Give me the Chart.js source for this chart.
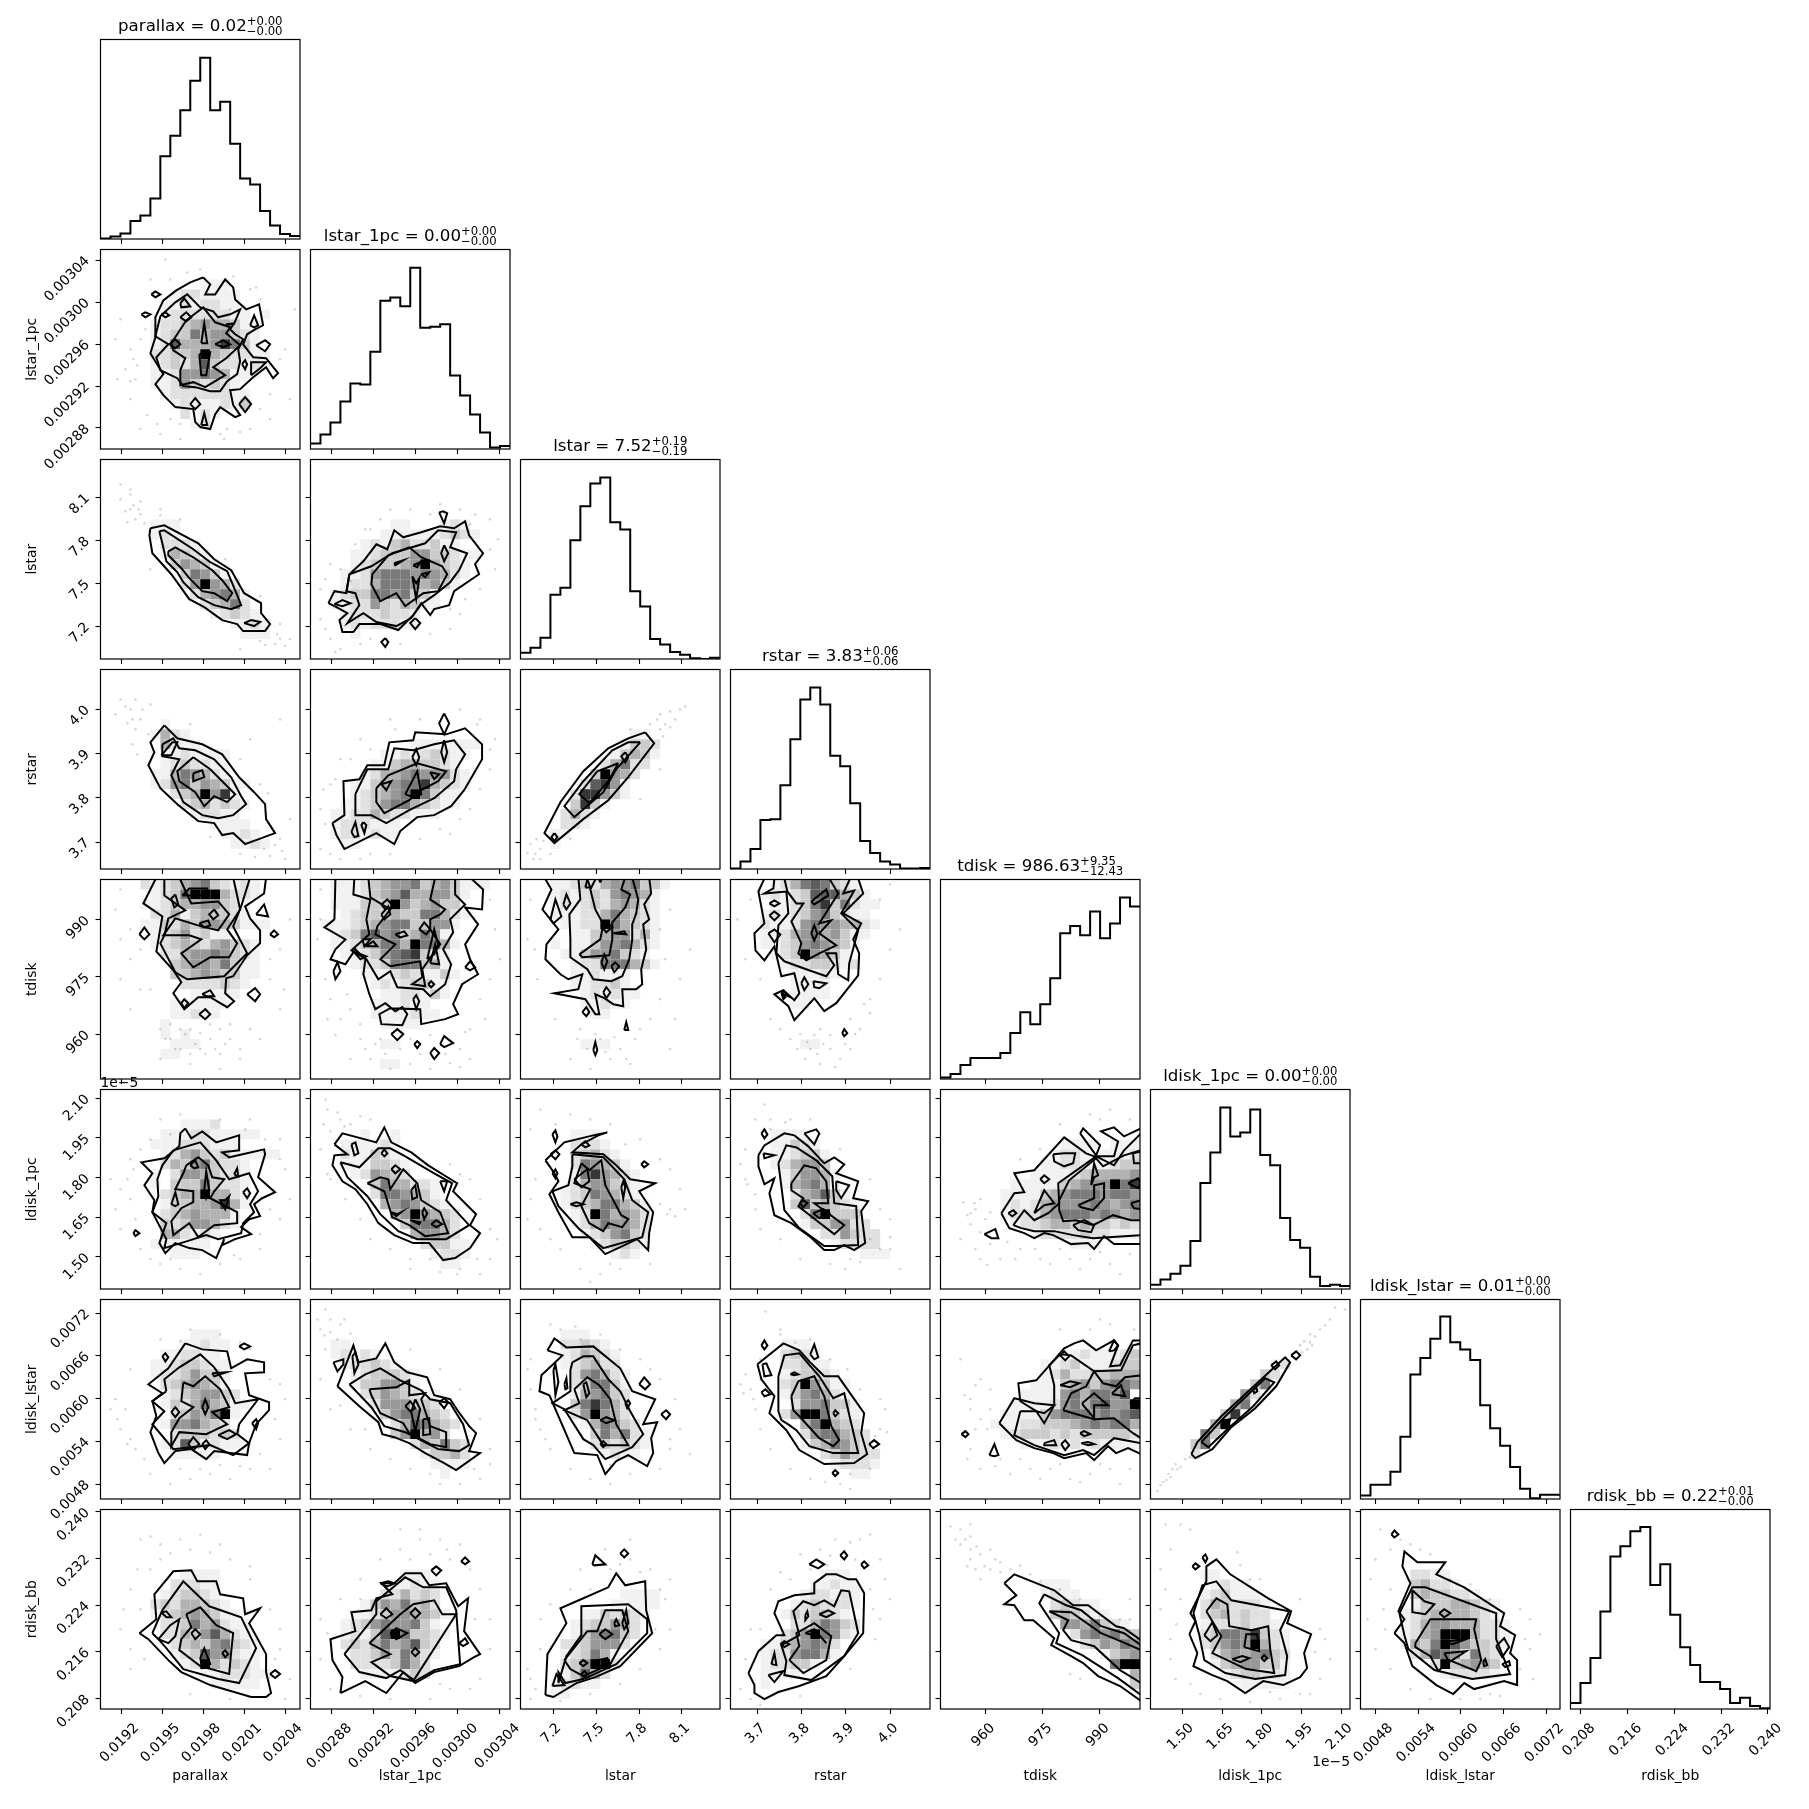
<!DOCTYPE html>
<html>
<head>
<meta charset="utf-8">
<style>
  html, body { margin: 0; padding: 0; background: #fff; overflow: hidden; }
  #corner { position: relative; width: 1809px; height: 1809px; overflow: hidden; }
  #corner canvas { position: absolute; }
</style>
<script src="https://cdn.jsdelivr.net/npm/chart.js@4/dist/chart.umd.min.js"></script>
</head>
<body>
<div id="corner"></div>
<script>
// variable names, titles
const names = ['parallax', 'lstar_1pc', 'lstar', 'rstar', 'tdisk', 'ldisk_1pc', 'ldisk_lstar', 'rdisk_bb'];
const titleMain = ['parallax = 0.02', 'lstar_1pc = 0.00', 'lstar = 7.52', 'rstar = 3.83', 'tdisk = 986.63', 'ldisk_1pc = 0.00', 'ldisk_lstar = 0.01', 'rdisk_bb = 0.22'];
const titleUp = ['+0.00', '+0.00', '+0.19', '+0.06', '+9.35', '+0.00', '+0.00', '+0.01'];
const titleDown = ['−0.00', '−0.00', '−0.19', '−0.06', '−12.43', '−0.00', '−0.00', '−0.00'];

// axis limits (ldisk_1pc is in units of 1e-5)
const axisMin = [0.019046, 0.00286, 6.971, 3.639, 948.3, 1.379, 0.00459, 0.2062];
const axisMax = [0.020509, 0.00305, 8.366, 4.09, 1000.5, 2.133, 0.00739, 0.2404];

// tick values and labels
const tickValues = [
  [0.0192, 0.0195, 0.0198, 0.0201, 0.0204],
  [0.00288, 0.00292, 0.00296, 0.003, 0.00304],
  [7.2, 7.5, 7.8, 8.1],
  [3.7, 3.8, 3.9, 4.0],
  [960, 975, 990],
  [1.5, 1.65, 1.8, 1.95, 2.1],
  [0.0048, 0.0054, 0.006, 0.0066, 0.0072],
  [0.208, 0.216, 0.224, 0.232, 0.24]
];
const tickLabels = [
  ['0.0192', '0.0195', '0.0198', '0.0201', '0.0204'],
  ['0.00288', '0.00292', '0.00296', '0.00300', '0.00304'],
  ['7.2', '7.5', '7.8', '8.1'],
  ['3.7', '3.8', '3.9', '4.0'],
  ['960', '975', '990'],
  ['1.50', '1.65', '1.80', '1.95', '2.10'],
  ['0.0048', '0.0054', '0.0060', '0.0066', '0.0072'],
  ['0.208', '0.216', '0.224', '0.232', '0.240']
];

// 1d histograms, 20 bins each, height in percent of the panel
const histParallax = [0.3, 1.3, 2.8, 9, 11.8, 20.3, 41.5, 51.8, 64.5, 79.3, 90.8, 64.5, 68.8, 47.8, 30.3, 27.3, 14, 6.8, 2.5, 1.5];
const histLstar1pc = [2.7, 7.3, 13.3, 23.8, 32.8, 32.3, 48.8, 74.3, 76, 71.5, 90.8, 60.8, 61.3, 62.5, 36.8, 26.8, 17.3, 8.3, 0.8, 1.5];
const histLstar = [3.1, 5.6, 10.6, 32.2, 35.7, 59.5, 76.6, 88, 91, 68.5, 64.9, 34, 26.3, 10, 7.3, 3.5, 2.1, 0.4, 0, 0.6];
const histRstar = [0.3, 3.7, 10, 24.5, 25, 42, 65, 85, 91, 82.5, 56.8, 51.5, 33, 14, 8, 3.7, 2.2, 0.2, 0.2, 0.5];
const histTdisk = [0.8, 2.5, 7, 10.5, 10.5, 10.5, 13, 23, 33.5, 27.5, 37.5, 50.5, 73, 76.7, 72, 84, 70.5, 78, 91, 86.5];
const histLdisk1pc = [2.1, 4.7, 7.7, 11.7, 24.1, 53.1, 68.4, 91, 76.5, 78.5, 90, 67.2, 62, 35.6, 24.5, 20.7, 6.2, 1.5, 2.1, 1.5];
const histLdiskLstar = [1.7, 7.1, 7.1, 13.7, 31.2, 62.4, 70.7, 80.3, 91.5, 78.6, 75, 69.7, 47, 35.5, 26.7, 16, 5.1, 0.4, 2.1, 2.1];
const histRdisk = [3, 13, 25.6, 48.9, 76.5, 81.6, 89.1, 91.2, 62.2, 72.6, 47.2, 31, 22, 13.5, 13.5, 10, 3, 5.6, 1.5, 0.4];
const hists = [histParallax, histLstar1pc, histLstar, histRstar, histTdisk, histLdisk1pc, histLdiskLstar, histRdisk];

// 2d panels: contours are flat x,y lists in bin units (0-20 along each axis, y up),
// cells are rows of bin darkness 0-9 from the top row, pts are the loose samples in bin units

const contours_r1c0 = [
  [10.3,17.2, 11,16.5, 10.5,15.5, 11.5,15.5, 12.5,17, 13.3,16.2, 13.5,15, 14.6,14, 15.9,14.5, 16.3,12.4, 15.5,12, 14.7,11.5, 14.3,10.5, 15.3,9.2, 16.6,9.1, 17.8,7.6, 17.3,7.1, 16.6,8.2, 15.3,7.2, 14,6, 13,5.9, 13.3,4.4, 14,3.4, 13.5,3.2, 12,4.2, 11.5,3.5, 11,2, 10,2.2, 9.5,2.7, 9.3,4, 7.5,4.2, 6.3,5.4, 5.5,6.5, 6.3,7.5, 5,9.6, 5.5,11.2, 5.5,13.2, 6.3,14.9, 7.6,15.9, 9,16.7],
  [6,13.3, 7.5,14.7, 8.7,15.5, 10,14.2, 11.3,13.8, 11.8,13.2, 13,13.5, 14,14, 13.5,12.8, 13,12, 13.5,11.5, 14.3,11, 13.8,10, 14,8.8, 13.7,7.5, 12.7,6.8, 12,5.8, 11,5.8, 9.5,6.2, 8.3,6.3, 7.7,7.1, 6,7.9, 5.6,9.2, 6.8,10.5, 5.5,11.3],
  [7.1,10.6, 8.6,12.9, 10.3,14.2, 11.5,12.7, 13,12.2, 12.6,11.6, 14,10.4, 12.6,9.1, 11.3,8.2, 12.5,7.4, 10.5,6.2, 9.3,6.7, 8,6.4, 8,7.9, 8.5,9.1, 7.3,9.9],
  [5.1,15.5, 5.5,15.8, 6,15.5, 5.5,15.2], [4.1,13.5, 4.5,13.7, 5,13.5, 4.5,13.2], [8,14.6, 8.4,15.1, 9,14.3, 8.1,14.2], [8,13.2, 8.6,13.7, 9.1,13.2, 8.6,12.8], [15,12.4, 15.4,13.4, 15.8,12.4, 15.4,12.2], [6.1,13.5, 6.5,13.7, 6.9,13.4, 6.5,13.2],
  [10.1,10.6, 10.4,12.6, 10.7,10.6], [6.9,10.5, 7.5,11, 8,10.5, 7.5,10.1], [11.5,10.5, 12.3,10.9, 13,10.5, 12.3,10.2], [9.9,9.5, 11,9.7, 10.6,7.4, 10.1,7.4], [15.6,10.4, 16.5,10.9, 17,10.5, 16.5,9.8], [14.2,8.5, 14.5,8.9, 14.7,8.5, 14.5,8], [15.1,7.4, 15.1,8.7, 16.6,8.7, 16,8.1],
  [9,4.5, 9.5,5.1, 10,4.5, 9.5,4], [10.1,2.4, 10.4,3.6, 10.7,2.4], [13.9,4.5, 14.5,5.2, 15.1,4.5, 14.5,3.7], [12.6,12.5, 13.5,12.6, 12.6,12.4]
];
const cells_r1c0 = ["", "", "", "..........111", ".......1221111", "......11212211", "......122222211.1", ".....122345443 11", ".....1233645532 1", ".....12744458631", ".....223349432211", ".....12324732212 1", ".....11255654111", ".....1125323 21", "......12222221 1", ".......12111213", "........2.21", ".........12", "", ""];
const pts_r1c0 = [2,13, 1.5,11, 3,10, 2.5,8, 3.5,7, 3,5, 6.5,19, 13,14, 16,15, 19.5,14, 18.5,10, 19,5, 4,2, 6,1.5, 8,2.5, 12,1.5, 15,2, 17,3, 7,17, 5,17, 1.7,7, 3.3,9, 3.7,8.4, 3,6.8, 4.5,12, 4,11, 4.7,3.4, 5.7,2.5, 8,1, 7,3, 12.7,2, 12.4,1, 14,1.7, 16,4, 17,5.5, 18,9, 8.7,17.7, 10,18, 13.3,17.3, 15,16, 15.6,16.2];

const contours_r2c0 = [
  [5,13.1, 6.4,13.4, 9.8,11.6, 11.4,10, 13.1,8.9, 14.4,6.6, 16.1,5.6, 16.1,4.6, 17,3.5, 16.5,2.8, 14.3,2.8, 13.7,3.5, 12.2,3.9, 10.4,5.2, 8.9,6, 7.1,8.5, 5.2,10.6, 4.9,12.4],
  [5.9,12.8, 6.4,12.9, 9.3,11, 11,9.7, 12.7,8.8, 13.7,6.4, 14.1,5.4, 13.1,5, 11.4,5.4, 9.8,6.2, 8.3,7.7, 7.7,8.7, 6.6,9.8, 6.2,11.6],
  [6.8,10.8, 7.5,11.2, 9.3,10.2, 11.2,8.9, 12.2,7.9, 13.2,6.6, 12.7,5.8, 11.4,6.6, 10.2,6.8, 8.9,8.1, 8.1,9.1, 6.8,10.4],
  [14.4,3.6, 15.1,3.9, 16,3.7, 15.4,3.3]
];
const cells_r2c0 = ["", "", "", "", "", "", ".....111", ".....121", "......2221", "......14321", ".......35431", "........36531", "........259542", ".........245641", "..........23462", "...........12321", ".............1121", "..............111", "", ""];
const pts_r2c0 = [2,16, 3,16.5, 3,15, 3.5,14, 4,14.5, 2.5,14.8, 4,15.8, 6,15, 8,14, 18,2, 17.5,1.5, 19,2, 17.7,2.5, 16,1.8, 14,1, 18,3.5, 12,6, 5,9, 3.3,15.4, 3.8,15, 4.4,13.6, 2.7,13.7, 3,17, 2,17.5, 16.5,1.4, 18.5,1.3, 16,6.3, 12.5,10, 6,14.4];

const contours_r2c1 = [
  [1.8,5.6, 2.4,6.8, 3.6,6.6, 3.9,8.5, 5.3,9.8, 6.6,11.5, 7.7,11, 8.4,12.9, 9.3,12.2, 11.1,12.7, 13,13.3, 14.4,13.1, 15.5,13.8, 15.9,12.4, 17.3,10.6, 16.5,9.5, 16.9,8.5, 14.4,6.8, 13.9,5.4, 12.4,5, 12,4.4, 11.1,5.6, 10.3,4.4, 8.8,2.9, 7,3.5, 4.9,3.5, 4.3,2.7, 3.2,2.7, 2.9,3.9, 3.7,4.6, 2.6,5.2],
  [3.9,8.5, 6.1,9.3, 8.2,10.6, 11.5,11.6, 12.8,12.9, 14.6,12.7, 14,11.2, 15.7,10.6, 14.9,8.9, 14,7.7, 12.4,6.4, 11.1,5.5, 10.1,4.1, 8.6,3.3, 6.6,3.7, 5.3,4.6, 3.7,3.6, 4.9,5.4, 4.5,6.6, 3.6,6.8],
  [6.2,8.5, 7.8,10.4, 9.9,11.2, 11.1,10.2, 13.2,9.3, 13.7,8.5, 12.8,6.8, 11.3,6.6, 9.5,5.3, 8.6,6.6, 7,5.8, 6.1,7.5],
  [12.9,14.7, 13.3,14.8, 13.7,14.6, 13.4,13.6], [2.4,5.5, 3.2,5.9, 4,5.6, 3.2,5.3], [7.5,2.1, 7.8,1.7, 7.5,1.2, 7.1,1.7], [10.5,4.1, 11,3.6, 10.5,3, 10,3.6], [13.4,11.4, 13.8,10.6, 13.4,9.8, 13.1,10.6], [8.4,9.6, 9.3,9.9, 8.5,9.4], [10.3,9.4, 11,9.7, 10.7,9.2], [11.1,8.5, 11.9,8.7, 11.5,8.2], [10.2,8.3, 10.6,7.6, 10.9,8.1, 10.6,6]
];
const cells_r2c1 = ["", "", "", "", "", "", "........11...121", ".......111111232 1", ".....1213 4 2231 1", "....112333553321 1", "....12333459432 1", "...11256665654 21", "...12246665453 1", "..12336656 33 1", "..1122532 431 1", "...12223221", "...12122211", "....1", "", ""];
const pts_r2c1 = [1,7, 1.5,3, 2,2, 4,7.8, 3,9, 6,13, 7,14, 10,15, 13,15.5, 15,15, 16.5,14.5, 18,14, 18.5,9, 17,7, 15,4.5, 14,3, 12,2.5, 9,1.5, 5,1.5, 3,1, 1.5,8, 2,9.5, 4.5,11.5, 5.5,13, 8,15, 12,14.5, 16,13.5, 18.8,12, 18,11, 15.5,6, 14,5, 6,2, 1,4, 2.5,0.7];

const contours_r3c0 = [
  [6.4,14.4, 7.7,13.1, 10.2,12.5, 12.2,11.5, 13.9,9.2, 15.4,7.7, 16.5,6.5, 16.6,5, 17.5,3.6, 15.6,2.9, 14.5,2.5, 13.3,3.6, 12.2,3.4, 11.4,4.6, 9.8,4.8, 7.7,6.5, 6,8.1, 4.8,10.4, 5.4,11.7, 5,12.7],
  [6.2,12.5, 7.3,13.1, 7.9,12.1, 9.5,11.9, 11.4,11, 13.1,9.2, 14.1,7.3, 14.6,6.5, 13.3,5.4, 11.8,5.1, 10.2,5.4, 8.3,6.7, 7.1,9.4, 7.9,11, 6.2,11.3],
  [9.3,11.2, 11,10, 12.7,8.3, 13.5,7.5, 12.7,6.7, 11.4,7.3, 10.4,6.3, 9.5,7.7, 7.9,8.8, 7.7,9.8],
  [6.1,11.4, 7.2,12.7, 7.7,12.7, 7.1,11.4], [9.3,9.6, 10.2,9.9, 10.4,9.2, 9.3,8.8]
];
const cells_r3c0 = ["", "", "", "", "", "......1", ".....1421", "......4211", "......1121111", "......1232211", ".....11465421", ".....1256354311", ".......2349581", "........2342321", ".........12211", "...........1111", "............1121", ".............1121", "", ""];
const pts_r3c0 = [2,17, 3,16, 1.5,15.5, 3.5,14, 4,15, 3.2,12.5, 5,16.5, 3.5,17, 4.8,13.5, 15,13, 18,15, 19,5, 18,3, 18.2,1.8, 17,1.3, 14,1.5, 11,3.2, 16,8.5, 14,11, 9,14.5, 3.2,15, 2.5,16.3, 4.2,16, 2.7,14.6, 17.5,2.4, 16.4,2, 18.5,1, 15.5,1.2, 3.7,11.5, 16.8,7.6];

const contours_r3c1 = [
  [2.2,4.6, 3.4,5.4, 3.3,8.8, 4.9,9, 5.7,10.4, 7.4,10.4, 7.9,12.7, 10.3,12.9, 10.5,13.7, 13.6,13.5, 15.5,14.1, 17.2,12.5, 17.2,11, 15.4,7.9, 14.1,6.3, 12.4,5.4, 10.7,5.2, 9,3.8, 8.4,2.5, 6.6,3.6, 3.4,2, 2.6,3.4],
  [4.5,7.5, 5.7,10, 7.8,10, 8.4,12.1, 10.3,11.9, 12.4,12.5, 14.4,12.9, 15.5,11.5, 14.6,10, 14.4,8.8, 12.4,7.1, 9.9,5.9, 7.6,4.6, 6.1,5.4, 4.5,5.4],
  [6.6,8.1, 7.8,9.4, 10.7,10.6, 13.6,9.8, 12.8,8.8, 11.1,7.9, 9.9,6.9, 7.4,5.6, 6.6,6.7],
  [13.4,15.6, 13.9,14.6, 13.4,13.5, 12.9,14.6], [13.4,12.9, 13.7,11.7, 13.4,10.7, 13.1,11.7], [4.1,3.7, 4.5,4.7, 4.8,3.3, 4.4,3.2], [5.3,4.7, 5.6,4.4, 5.4,3.6, 5.1,4.4], [9.5,7.5, 10.7,9.8, 11.1,7.5, 10.5,7.1], [7.1,8.5, 8.1,8.8, 7.6,7.9], [12,9.7, 12.9,9.5, 12.4,9], [10.2,11.2, 10.6,12, 10.9,11.2, 10.6,10.4]
];
const cells_r3c1 = ["", "", "", "", "", "", "...............", "..........111111 1", ".......1121 23211", "......11344 33 2 1", ".....124456555 21", "....11345668432 1", "....123456 9 6311", "...112356643211", "..1122432211 1", "..1222111", "..122 1211", "...11", "", ""];
const pts_r3c1 = [1,6, 1.5,4.5, 1,2, 2,1.5, 2.5,9, 4,11, 6,12, 8,15, 11,15, 15,16, 17,15, 18.5,13, 18,10, 17,8, 15,5, 13,4, 11,3, 8,1.5, 6,1.5, 3,1, 1.3,8, 2,8.5, 3,11, 5,13, 8.5,14, 16.7,14.5, 18,12, 16,6, 14,3.5, 5,1];

const contours_r3c2 = [
  [12.5,13.7, 13.4,12.6, 10.8,9.2, 8.8,6.9, 6.3,5, 3.4,2.6, 2.4,3.6, 4,6.7, 6.3,9.8, 8.8,12.1, 10.8,13.1],
  [12,12.7, 9.6,10, 8.3,7.7, 5.4,5.2, 4.4,6.3, 6.3,8.8, 9.2,11.9, 10.8,12.7],
  [9.8,10.6, 8.8,8.8, 6.9,6.6, 5.9,7.5, 7.7,9.8],
  [10.5,11.7, 10.8,11.2, 10.5,10.7, 10.1,11.3], [3.4,3.6, 3.7,3.2, 3.4,2.8, 3.1,3.2]
];
const cells_r3c2 = ["", "", "", "", "", "", "...........11", "..........1332", ".........13431", "........24622", ".......3 9 5 4 2", "......2 7 8 5 1", ".....2 8 8 5 3 1", ".....3 8 3 1", "....2 4 2 1", "....2 2 1", "...1 1", "...1", "", ""];
const pts_r3c2 = [14,15.5, 14.5,14.5, 15,15.8, 16,16, 16.5,16.3, 14,14, 13,14.5, 2,2, 1.5,1.5, 1,2.5, 1.6,3, 3,1.5, 0.7,1.6, 2,1, 15.5,15, 13.7,15, 14.3,13.3, 15,14.2, 11,14, 1.3,1, 2.3,2.8, 5,3, 12,7, 14,10];

const contours_r4c0 = [
  [5.6,20.2, 4.3,17.6, 6.2,16.3, 5.6,12.8, 7.3,10.9, 8.1,9.7, 7.3,8.6, 8.4,7, 9.8,8.2, 11,8.2, 12.7,7.2, 13.4,7.8, 12.5,8.6, 12.6,10.1, 13.3,10.3, 14.7,12.4, 16,13.6, 16,14.9, 15,16.1, 14.5,17.3, 16.4,18.6, 16.6,20.2],
  [6.4,20.2, 6.4,18.4, 8.5,16.9, 6.8,16.1, 6.4,14.4, 6,13.6, 7.5,10.7, 8.7,10, 12.4,10.3, 14.7,12.6, 13.3,15.3, 14.1,17.3, 15,20.2],
  [7.9,20.2, 9.1,17.6, 11.8,17.8, 12.9,16.5, 11.8,14.9, 10.1,15.3, 7.5,16.1, 6.3,14.4, 8.9,14.4, 10.1,14, 8.1,12.6, 9.3,11.2, 11,12.2, 12.9,12.2, 13.7,13.6, 12.7,15, 14,17, 13.3,20.2],
  [7.5,18.5, 7.8,17.5, 7.4,17.2, 7.1,18.1], [3.9,14.5, 4.4,15.2, 4.9,14.5, 4.4,14], [11.4,17, 11.8,16.4, 11.3,16, 10.9,16.5], [9.9,15.6, 10.8,15.9, 11,15.4, 10.4,15.2], [17,14.5, 17.4,14.9, 17.8,14.5, 17.4,14.2], [15.6,16.5, 16.4,17.5, 16.8,16.3],
  [14.7,8.5, 15.5,9.1, 16,8.5, 15.5,7.8], [9.9,6.5, 10.5,7, 11,6.5, 10.5,6], [10.2,8.5, 11,8.9, 11.4,8.3, 10.6,8.3], [8.1,7.6, 8.4,8, 8.8,7.6, 8.4,7.1], [8.2,18.4, 10.7,18.4, 10.7,19.1, 8.9,19.1]
];
const cells_r4c0 = ["....212345632121", ".....12369994221", "....1123445532 1", ".....224134332 1", "....11324355431 11", ".....12352 31 1", ".....12343245321", "......2245565 321", ".......3455463 1 1", ".......3345433 1 1", "........2222321", ".........11111", ".......11111 1", ".......1 121 1", "......1", "......1.1", ".......11 1", "......1 1", "", ""];
const pts_r4c0 = [2,19, 3,15, 4,13, 3,12, 2,10, 5,9, 6,5, 7,4, 8,3, 9,5, 10,3, 11,4, 12,2.5, 13,4, 14,3, 15,5, 16,4, 18,7, 17,10, 18,13, 19,16, 6,2, 9,1.5, 12,1, 6.5,4, 7.5,3, 8.5,4.5, 9.5,3.5, 10.5,2.5, 11.5,3, 12,5, 13,5.5, 7,5.5, 8,5, 10,4.6, 11,5.5, 9,2.5, 12.5,3.5, 14,2, 4,9, 3,7, 17,12, 18.4,9, 2,14, 1.5,17];

const contours_r4c1 = [
  [2.4,16, 1.4,15.2, 3.5,14, 2.5,13, 2,12, 3.5,11.5, 4.5,13, 5.5,12, 5.3,10.5, 5.9,8.5, 6.5,7, 7.5,7.6, 8.5,6.8, 9.2,7.2, 9.7,6.5, 9.2,5.4, 7.1,5.5, 6.9,6.5, 8,7.1, 11,7, 11.1,5.5, 13.5,6, 14.8,6.5, 14.3,7.5, 15.2,9.5, 16.8,10.5, 16,12, 15.5,13.5, 16.8,15.5, 15.5,17.2, 17.2,17, 17.3,19, 16,20.2, 2.5,20.2],
  [4.4,20.2, 4.3,18.5, 6,18, 5.6,16, 5.9,14.5, 4.1,12.9, 5.6,12, 6.8,10, 8,10.8, 8.7,9.2, 11.3,9, 12,8.3, 13.5,9.5, 14.1,11.5, 13.3,13, 14.3,14.7, 14,16, 15.5,17.5, 14.5,18.5, 14.5,20.2],
  [5.8,20.2, 6,18.2, 8,17, 6.7,15.3, 6.5,14.5, 8.5,13.5, 7,12, 8,11.3, 11,11.8, 11.2,10.2, 10.2,9.5, 11.5,9.3, 11.2,11, 13,13.5, 12,15, 12,16, 13,16.5, 13.5,17, 12,18, 12.5,20.2],
  [2.3,10.8, 2.7,11.7, 3,10.8, 2.5,10], [4.3,12.8, 5.6,12.3, 5,12], [5.5,13.3, 6.3,13.8, 6.7,13.3], [5.2,14, 6,14, 5.4,13.3], [7.1,16.5, 7.8,17.3, 8,16.5, 7.4,16], [10.9,15, 11.6,14.5, 12,15, 11.4,15.7], [8.5,14.5, 9.4,14.8, 9.7,14.4, 9,14.2], [11.7,12, 12.4,15, 12.8,13.5, 12.4,12.5], [15.5,11.2, 16,11.8, 16.5,11.2, 16,10.9], [12,11.6, 12.5,13.5, 12.9,11.5],
  [8.1,4.5, 8.7,5, 9.3,4.5, 8.7,3.9], [10.4,3.5, 10.7,3.8, 11,3.5, 10.7,3.1], [12,2.6, 12.4,3.1, 12.9,2.6, 12.4,2], [13,3.5, 13.4,4.3, 14.3,3.6, 13.4,3.2], [7.1,17.5, 7.7,18, 8.3,17.3, 7.5,17], [10.3,8, 10.6,8.4, 10.9,7.8, 10.6,7], [11.8,9.5, 12.1,9.8, 12.4,9.5, 12.1,9.2]
];
const cells_r4c1 = ["..1112345563453111", "..11123457445531", "..11133395 34533", "...12333433664 21", ".1112345663 3551", "..1 2 3675634651", "..1123466496641", "...1 123567 8 3 21", "....1223666 3 4 1", ".....1112321 131", "......1212 33 1 1", ".......11221 31", "......1 1 1 21 1", "......1111 2 1 1", ".......1111", "", ".......1 1", "", ".......1 1", ""];
const pts_r4c1 = [1,19, 1,16, 0.7,14, 1.5,10, 2,8, 3,6, 4,7, 5,4, 4,2, 6,2, 7,4, 8,1, 10,1.5, 12,1, 14,1.6, 15,3, 16,2, 17,8, 18,10, 18.5,15, 18,18, 19,12, 5.5,3, 6.5,3.5, 7.5,2.5, 9,3, 10,4, 11,2.5, 12,4.4, 13.5,2.5, 15,1.2, 5,5.5, 3.7,8.5, 2.5,4.4, 1.7,6, 16,5, 17.5,6, 15.5,4.7];

const contours_r4c2 = [
  [2.4,20.2, 3.1,19, 2.2,17, 3.8,15, 2.6,13.5, 2.5,12, 4,10.5, 4.8,10, 6.2,10.5, 5.8,9, 3.4,8.6, 6.5,8, 7.5,6.5, 7.9,6.5, 7.5,8.5, 8.4,8.1, 9.3,7.5, 10.3,7.3, 10.2,9, 11.6,9, 12.2,9.5, 12.1,11, 12.6,13, 12.3,15.5, 12.9,16, 12.4,17.5, 13.1,18.6, 12.9,20.2],
  [5.8,20.2, 6,18, 4.9,16.5, 5,14, 5,12.2, 6.7,11, 7.3,10, 9.1,9.8, 10.2,10.3, 10.9,12, 11.2,14, 11.2,15.5, 11.6,16.6, 11.8,18, 11.2,20.2],
  [5.9,12.5, 8,14, 8.3,15.5, 7.5,17, 7,19, 7.6,20.2, 10.5,20.2, 10.1,19, 11,18.5, 10.5,17.2, 9.2,15.7, 9.2,14, 8.9,12.4, 6.2,12.2],
  [3,16, 3.5,18, 4.1,16.3, 3.3,15.6], [4.3,17.5, 4.6,18.5, 5,17.6, 4.6,17], [8.2,15.2, 8.6,15.8, 9.2,15.2, 8.6,14.7], [8.1,11.7, 8.4,12.5, 8.7,11.8, 8.4,11], [9.1,11.3, 9.5,11.7, 9.9,11.3, 9.4,10.7], [8.3,8.7, 8.6,9.2, 9,8.7, 8.6,8.1], [6.2,6.7, 6.6,7.2, 6.9,6.7, 6.6,6.3], [10.4,4.9, 10.6,5.7, 10.8,4.9], [7.3,2.9, 7.5,3.7, 7.7,2.9, 7.5,2.4], [8,19.7, 8.2,20.2, 7.8,20.2], [6.5,19.2, 6.7,20, 7,19.2], [9.3,14.6, 10.4,14.8, 10.6,14.5]
];
const cells_r4c2 = ["...112324556331", "...12123256541", "...12123245421", "...1112246432 1", "....1122 9 6432 1", ".....11345524 1", "...1.1135564 21", "....113556 321", ".....12266643 1", ".....1 1 2 1 1 1", ".....1122 3 1", "......12121 1", "......1121 1", ".......1 1", "...", "", "......11 1", "", "", ""];
const pts_r4c2 = [1,18, 0.7,14, 1.7,10, 1.4,13, 14,15, 15,17, 14.5,12, 14,8, 16,10, 5,2, 6,5, 7,1, 8,4, 9,2, 10,3, 11,1.5, 12,5, 13,6, 15,3, 5.7,4, 6.7,3, 8.5,2.7, 9.4,4.2, 10.6,2, 11.5,4, 7.5,4.5, 3.5,6, 15.5,6, 17,13];

const contours_r4c3 = [
  [3.4,20.1, 2.8,18.8, 3.4,15.6, 2.4,14.6, 2.5,12.9, 3.4,11.9, 4.4,13.3, 5.1,10.3, 6.4,10.6, 6.9,8.6, 6.4,7.9, 5.3,8.9, 4.4,8.5, 5.8,7.3, 6.4,5.9, 8.4,8.1, 9.4,6.8, 10.6,7.6, 12.8,10.4, 12.9,12.6, 12.3,14, 13.1,15.6, 11.3,16.6, 12.6,17.9, 13.3,18.6, 12.8,20.1],
  [4.4,20.1, 4.3,19.1, 3.4,18.6, 5.6,18.8, 5.8,16.6, 4.8,15.4, 4.6,12.6, 5.4,11.8, 7.3,11.1, 9.6,10.3, 10.4,11.4, 9.6,12.6, 10.6,12.6, 10.8,10.5, 11.8,9.9, 11.9,11.6, 12.8,14.9, 11.1,16.6, 12.4,18.9, 11.3,18.6, 12,20.1],
  [5.4,20.1, 5.7,18.8, 6.6,17.6, 7.3,17.6, 6.1,15.8, 7.1,13.6, 6.8,12.6, 7.6,11.9, 8.9,12.6, 10.6,13.4, 8.9,14.6, 10.1,15.9, 8.9,15.6, 10.8,18.6, 9.9,20.1],
  [3.9,17.6, 4.4,17.9, 4.9,17.6, 4.4,17.3], [3.9,16.4, 4.4,16.8, 4.9,16.4, 4.4,15.9], [3.8,14.6, 4.4,15, 5,14.5, 4.4,13.7], [7.1,9.6, 7.4,10.2, 7.8,9.5, 7.4,8.9], [8.3,9.8, 9.6,9.6, 8.9,9.1, 8.4,9.2], [11.2,4.6, 11.4,5, 11.7,4.6, 11.4,4.3], [8.1,17.8, 9.6,19, 9.8,18.4, 8.4,17.5], [8.1,14.6, 8.4,15.4, 8.7,14.6, 8.4,13.9], [5.1,8.6, 5.5,8.2, 5.3,8], [5.1,8.6, 5.4,8.8, 5.8,8.3]
];
const cells_r4c3 = ["....1 24676321", "...12123777431", "....11236836 2 11", "...12 123563 2 11", "...2 11256554421", "...1 1 24564531 1", "...1 123565431", "....1239543 1", ".....1223 321 2", "......1 1 1 2 1", "......1 11 1", "......11 1 1", "......1 1", "", "", "", ".......1 1", "", "", ""];
const pts_r4c3 = [2,18, 0.7,16, 1.5,12, 3,10, 4,6, 5,5, 7,4.5, 8,3, 9,5, 10,3, 11,2, 12,3, 13,5, 14,8, 15,10, 16,13, 15,18, 16,19.5, 17,15, 9,1.5, 6,4, 6.7,3, 7.7,3.7, 8.4,4.4, 9.3,3.5, 8.7,2.5, 10,4.4, 11.5,3.5, 12.5,4.5, 12,6, 14,6.6, 13.4,7.5, 7.5,2, 10.5,1.2];

const contours_r5c0 = [
  [8.5,16.1, 9.1,15.1, 10.2,15.8, 11.6,14.7, 13.9,15.4, 13.9,13.9, 12.2,13.7, 12.9,13.2, 16.4,14, 16.5,13.5, 15.8,11.2, 17.5,9.7, 16.2,9.1, 15.4,8.5, 16,7.3, 14.9,7, 14.1,6.2, 15.1,5.5, 13.5,5, 12.2,4.4, 12.4,5, 11.6,3.1, 10.2,3.9, 8.9,4.1, 7.5,4.6, 6.5,3.6, 5.9,4.6, 6.6,6.6, 5.2,7.7, 5.4,8.9, 4.4,10.4, 5.2,11.6, 4.1,12.7, 6.4,13.1, 7.9,14.3, 8,15.6],
  [7.3,13.9, 10,14.7, 11.6,12.9, 12.9,11, 14.9,11.6, 15.8,9.8, 15,8.5, 15.4,7.7, 14.3,6.6, 14.1,5.6, 11.8,5, 10.6,5.4, 8.7,4.8, 6.4,4.1, 6.6,5, 5.2,7.7, 5.8,9.3, 5.7,11, 6.2,12.4],
  [8.6,12.4, 9.8,13.2, 10.8,12.4, 11.2,11.2, 12.4,11, 11.4,9.8, 11,9.1, 13.7,7.7, 13.7,6.6, 11.4,6.4, 9.8,5.2, 8.9,6.6, 7.3,5.4, 7.1,6.8, 8.1,8.1, 9.3,8.7, 9.3,9.8, 7.5,10, 8.3,11.6],
  [7.1,8.5, 7.5,9.7, 7.8,8.5, 7.5,8.3], [3.3,5.6, 3.5,5.9, 3.9,5.6, 3.5,5.3], [10.4,9.9, 10.6,11.8, 10.9,9.9, 10.6,9.1], [12.5,8.9, 12.9,9.3, 12.5,8, 12,8.9], [14.3,9.7, 14.7,10.1, 15,9.6, 14.7,9.1], [13.4,11.5, 13.7,12.1, 13.8,11.3], [9,12.4, 9.5,12.9, 9.8,12.2, 9.4,12.1]
];
const cells_r5c0 = ["", "", "", "........1112", "......111221 1111", ".....1 1122211 1", "......124532311111", "......243563 22 1", ".....1.2554 3 22 1", ".....1.3336 3221", "......2 3449 4 4 21", "......1334458 41", "......2 3 4 5 4 4 4 1", "......323 5 5 4 2 1", "......4 4 2 1 2 1", ".....1 11 1 1 1", ".......111", ""];
const pts_r5c0 = [2,6, 1.5,8, 1,11, 3,13, 4,14, 5,15, 6,17, 8,17.5, 12,17, 15,17, 18,15, 18.5,12, 19,9, 18,7, 16,4, 14,3, 10,1.5, 8,2, 6,2.5, 4,4, 3,9, 2,10, 3.5,7, 2.7,11, 3.3,12, 5,3, 7,3, 12,2.5, 13.4,3.4, 16,5.5, 17,8, 18,13, 16.5,15, 14.5,16, 7,15.5];

const contours_r5c1 = [
  [2.4,14.5, 3.2,15.6, 6.6,14.7, 7.4,16.2, 8.1,14.7, 10.1,13.7, 11.8,12.4, 14.7,10.6, 14.3,9.8, 16.6,7.5, 16,6.4, 17,5.6, 16,4.1, 14.5,3.1, 13.3,2.9, 11.9,4.6, 10.3,4.6, 8.4,5.4, 6.8,6.6, 5.7,8.5, 4.5,10, 3.2,10.8, 2.2,12.4, 2.4,13.4, 3.7,13.5],
  [3,12.7, 4.9,12.2, 6.8,14.1, 8,14.1, 9.5,13.3, 12.4,11.6, 14.2,10.6, 13.6,8.9, 15.9,6.4, 13.6,5, 10.7,5, 8.8,5.8, 7,7.5, 5.7,9.3, 3.7,11.2],
  [5.7,10.6, 7,11.2, 7.8,11, 8,10, 9.3,12, 10.7,10.6, 11.1,8.9, 13,7.7, 13.8,5.6, 11.5,5.3, 9.9,6.4, 8.2,7.2, 7.4,9.8],
  [4.1,14.5, 4.5,14.7, 4.8,13.6, 4.4,13.4], [7.1,13.6, 7.4,14, 7.7,13.6, 7.4,13.3], [8.1,12, 8.5,12.4, 9,12, 8.5,11.6], [13,10.8, 13.7,10.8, 13.4,9.8], [10.1,9.9, 10.5,10.4, 10.7,9.2, 10.2,9], [8.1,7.7, 8.7,7.5, 9.1,7.7, 8.6,7.3], [11.2,7.7, 11.4,8.1, 11.7,7.6, 11.4,7], [12.1,6.5, 12.6,6.9, 13.2,6.5, 12.6,6.2], [10,6.9, 11,6.7, 10.9,6.5]
];
const cells_r5c1 = ["", "", "", "", ".....1..1", "...111 1 2 1", "...2 1 1 3 2 1", "...111 3 3 2 1", "....12 5 4 3 2", "......3 6 4 4 2 2 1", "......2 6 6 5 4 3 1", ".......4 5 6 5 3 2 1", "........4 5 9 5 4 3 2", ".........3 6 6 6 4 2", "..........4 5 5 4 2", "...........2 3 3 1 1", "............1 2 2 1", ".............1 1", "", ""];
const pts_r5c1 = [1.5,19, 1.7,18, 3,17, 4,16.5, 6,17, 2,15.8, 1,14, 2,11, 5,7, 6,5, 8,4, 10,3, 12,3, 15,2, 17,1.5, 18,3, 18,6, 17,9, 16,11, 14,12.5, 2.7,17.7, 1.3,16.5, 3.4,16.3, 5,17.3, 18.7,5, 16.7,3, 14.7,1.5, 13,1.7, 1.7,11.5, 3.5,9, 10,2, 15,11.5];

const contours_r5c2 = [
  [2.5,12.9, 4.4,14.7, 7.7,15.5, 8.7,15.7, 7.8,15.4, 6.1,14.5, 5.2,13.7, 8.3,13.5, 9.6,12.4, 11,11, 13.5,10.6, 11.9,9.8, 13.3,7.7, 12.9,5.6, 12.8,3.9, 11.7,5, 8.5,3.5, 6.9,5.2, 5.2,5.2, 3.8,7.7, 2.9,9.5, 3.8,10.8, 3.4,11.6],
  [5.2,13.5, 8.3,13.2, 10.4,11, 11.2,8.9, 12.8,7.7, 12.2,5.2, 8.3,4.1, 5.9,6, 3.8,8.3, 3.2,9.8, 4.8,10.4, 5.2,12.3],
  [6.1,12.6, 6.9,11.9, 8.1,12.9, 8.5,10.4, 10.1,7.4, 10.8,7, 10.2,6.2, 8.8,6.6, 8.3,5.8, 6.9,6.6, 6.1,8.3, 7,10, 5.4,10.6],
  [3.2,15.5, 3.5,15.9, 3.7,15.3, 3.5,14.7], [3,13.5, 3.5,13.9, 3.9,13.5, 3.5,13], [3.2,11.6, 3.5,12, 3.7,11.6, 3.5,11.1], [6.1,14.5, 6.5,14.8, 6.9,14.4, 6.5,14.2], [12.1,12.5, 12.4,12.8, 12.8,12.5, 12.4,12.2], [10.1,10.2, 10.3,10.8, 10.5,10.2, 10.3,9.1], [5,8.5, 5.6,8.7, 6.3,8.5, 5.6,8.3], [5.4,11, 6.7,12, 6.9,10.8, 6.1,10.2]
];
const cells_r5c2 = ["", "", "", "", ".....111", ".....2 2 2 1", ".....2 3 4 2 1", ".....2 6 5 4 3 1", ".....1 6 8 5 4 2 1", ".....2 4 5 5 3 2 1", "....1 2 3 6 5 4 2 1", "....1 2 3 4 6 6 4 3 1", ".....1 2 9 6 4 5 4 2", ".....1 2 4 6 5 5 4 2", "......1 2 3 5 6 3 2", ".......1 2 3 3 2 1", ".........1 2 1", "", "", ""];
const pts_r5c2 = [1,16, 2,18, 1.5,11, 1,9, 0.7,7, 2,6, 3,5, 4,4, 6,2, 8,1.5, 10,2, 13,2.5, 15,8, 16,10, 15,12, 14,13, 12,15, 9,16.5, 7,17, 5,17.5, 14,8.5, 14.7,7.5, 15.5,7.3, 16.5,8, 3.5,16.5, 10.5,14.5, 9,2.5, 7,0.7];

const contours_r5c3 = [
  [2.8,13.4, 3.4,14.4, 5.4,15.6, 6.4,15.4, 7.8,14.3, 9.4,12.6, 10.4,13.2, 11.4,12.5, 10.6,11.6, 12.8,10.8, 12.3,9.1, 13.8,8.8, 13.1,7.8, 13.5,4.6, 12.4,3.9, 11.4,4.4, 10.4,3.9, 9.4,3.9, 7.9,5.3, 6.1,6.6, 4.4,7.4, 3.9,9.6, 4.4,11.1, 3.4,10.5, 2.8,12.3],
  [4.8,12.6, 5.6,14.4, 6.6,14.2, 8.6,12.9, 10.2,11.3, 10.4,8.6, 12.6,8.3, 12.8,4.4, 10.6,4.3, 9.4,4.3, 6.9,6.1, 5.4,7.9, 5.1,10.3],
  [6.1,10.6, 7.4,12.4, 8.6,12.1, 9.6,10.8, 9.8,8.6, 8.4,8.6, 11.4,6.4, 10.4,5.5, 8.6,6.9, 6.8,8.3, 7.3,9.1, 6.1,9.9],
  [3.1,15.6, 3.4,16, 3.7,15.5, 3.4,15.1], [7.4,15.6, 8.6,16, 8.9,15.6, 8.4,14.5], [3.3,13.6, 4.4,13.4, 3.4,13.1], [10.6,10.8, 11.9,10.4, 11.1,9.1, 10.6,9.9], [8.3,7.6, 9.3,8, 9.9,7.6, 8.9,7.1], [6.9,8.6, 7.3,8.9, 7.7,8.6, 7.3,8.2]
];
const cells_r5c3 = ["", "", "", "", "....111 1", "....11 3 2 1", "....11 2 3 3 1", "....1 2 4 5 5 3", ".....1 3 5 5 4 1", ".....1 4 5 6 4 1", "......2 4 5 7 3 1", "......3 7 3 4 3 2 1", ".......2 6 9 3 3 3", ".......1 3 3 5 5 2 2", ".........2 2 5 3 2 2", "..........1 2 2 2 2", ".............1 1 1", "", ""];
const pts_r5c3 = [3.4,18.5, 2.5,17, 1.5,14, 1.5,11, 2.5,8, 3,6, 5,5, 7,3, 10,2.5, 12,3, 14,5, 16,5.2, 15,8, 14,11, 11,14, 8,17, 6,17, 4,17, 16,4, 17,2, 1,12.5, 1.7,10.5, 2.5,9.5, 11.5,2, 13,2.7, 15,4, 16,7, 5.5,16.7, 4,16, 9,15.5];

const contours_r5c4 = [
  [6.1,7.6, 7.4,9.6, 8.4,9.7, 7.4,11.6, 9.4,11.9, 12.4,15.2, 14.6,13.6, 15.4,13.3, 17.4,13.3, 17.8,14.8, 16.1,15.8, 17.4,16.2, 18.4,15.3, 20.1,16.1, 20.1,4.5, 17.4,4.5, 16.4,5.3, 15.4,4, 14.8,4.6, 13.1,4.5, 11.3,5.4, 10.4,5.6, 9.4,5.1, 8.4,5.6, 6.9,6.1],
  [7.3,6.4, 8.4,7.9, 9.4,6.9, 10.8,7.6, 11.9,8.6, 11.8,10.6, 15.6,13.3, 17.4,12.4, 18.4,13.9, 20.1,15.6, 20.1,5.4, 15.3,5.1, 13.3,5.4, 11.4,5.8, 9.4,5.8, 8.1,6.1],
  [11.9,8.9, 12.9,10.9, 15.6,13.1, 16.3,12.3, 18.4,13.4, 20.1,13.9, 20.1,6.9, 19.1,6.9, 17.3,7.4, 15.3,6.4, 13.6,6.9, 12.3,6.8, 11.9,7.9],
  [4.4,5.5, 5.5,6, 5.8,5.1, 5.1,5.1], [11.3,13.5, 12.4,13.6, 13.5,13.6, 13.3,12.6, 12.4,12.3, 11.4,12.8], [9.4,7.6, 10.4,9.9, 11.4,8.6, 10.4,8.4], [13.3,6.4, 14.4,6.9, 15.4,6.4, 15.1,5.7, 13.8,5.9], [15.1,10.4, 15.4,12.6, 15.8,11.4, 15.4,11.2], [13.8,8.4, 15.4,9.1, 15.4,10.4, 16.4,10.6, 16.4,9.1, 15.3,7.9, 14.1,8.2],
  [18.8,10.6, 19.8,11.1, 20.1,10.6, 19.8,10.1], [19.1,8.6, 20.1,8.9, 20.1,8, 19.4,8.1], [19.3,13.6, 20.1,13.8, 20.1,12.6, 19.4,12.6], [10,11, 10.4,11.4, 10.9,11, 10.4,10.6], [6.8,7.6, 7.3,7.9, 7.6,7.6, 7.2,7.3], [14,15.6, 14.3,16.1, 16,14.4, 15.6,13.4]
];
const cells_r5c4 = ["", "", "", "", "", "............1111.1112", "...........1221.11123", "..........1122111233", ".........111123444455", ".......11111345559 68", "......11113456665665", "......12124555565456", "......12224566656545", ".......1223443433232", ".........12222322111", ".............111", "", "", "", ""];
const pts_r5c4 = [4,9, 4.5,7, 3.5,8, 3,6.5, 2,5, 3.5,4, 4,3, 5,4.5, 6,3, 7.5,3, 8,4, 10,3, 11,2.5, 12,4, 14,2, 15,3, 17,2.5, 18,1.5, 16,17, 17,18, 15,17.5, 12,16.5, 3.4,8.6, 2.7,7.4, 2.3,8.7, 3,7.6, 4,5.7, 5,7.7, 4.7,2.4, 6.7,4.7, 9.5,4, 13,3, 16,3.7, 19,3.5, 19,17, 10,14, 8,13];

const contours_r6c0 = [
  [8.5,15.6, 10.2,15, 12.7,14.8, 13.1,13.1, 14.7,14, 16.4,13.7, 16.4,12.7, 14.5,12.6, 14.9,10.4, 16.9,9.7, 16.9,8.9, 15.6,7.5, 14.9,5.6, 14.7,4.4, 11.4,4.8, 10.6,4, 9.1,5, 7.5,4.8, 6.4,3.6, 5.8,4.6, 5,6.7, 5.6,8.3, 5.2,9.8, 6.2,10.6, 4.8,11.5, 6.8,13.1],
  [6.6,10.8, 6.4,12, 7.9,13.2, 10,14.5, 11.4,13.2, 12.9,11, 13.5,9.6, 15.8,10, 13.9,7.5, 13.7,6.5, 14.9,5.6, 13.3,4.4, 11,5.4, 7.3,5, 5.2,7.5, 6.4,8.8, 5.2,9.8],
  [8.3,11.7, 9.3,11.3, 10.5,12.3, 12,11, 12.9,9.2, 11.2,8.7, 12.7,7.5, 10.6,6.5, 7.9,6.7, 7.1,5.3, 7.1,6.7, 7.9,8.1, 9.3,9.2, 8.1,9.8],
  [6.2,14.3, 6.5,14.6, 6.8,14.2, 6.5,13.8], [13.9,15.3, 14.4,15.6, 15,15.3, 14.4,15], [7.1,8.7, 7.5,9.2, 7.9,8.7, 7.5,8.2], [11.2,12.6, 12.6,12.7, 11.4,12.3], [15.2,7.6, 15.6,8, 15.8,7.6, 15.6,7], [11.8,6.4, 12.9,6.9, 13.6,6.5, 12.7,6], [8.8,5.5, 9.3,6.2, 9.9,5.5, 9.3,4.9], [10.2,5.5, 10.6,5.9, 10.9,5.5, 10.5,5], [10.2,9.2, 10.5,10, 10.8,9.2, 10.5,8.5]
];
const cells_r6c0 = ["", "", "", ".........1 1 1", "........1 1 2 1 1", "......1 1 2 2 1 1", ".....1 1 2 3 3 2 1 1", ".....1 2 2 3 5 3 3 1", "......2 3 4 5 4 3 1", "......1 2 3 4 5 5 3 2", "......1 3 2 4 6 4 3 1 1", ".......2 3 5 4 6 9 1", "......1 5 5 6 4 3 2", ".......2 3 3 3 2 3 2", "......1 2 7 3 1 2 1 1", ".......1 1 1 1 1", "", "", ""];
const pts_r6c0 = [1,9, 1.5,10, 2,7, 3,6, 3.5,5, 5,2.5, 7,1.5, 9,2, 11,2.5, 13,2, 15,3, 17,3, 18,6, 18.5,10, 17,12, 15,15, 12,16.5, 9,17, 6,16, 3,13, 1.7,8, 2.5,9, 2.7,5.5, 4.4,4, 8,3, 10,3, 12,3.4, 14,3.3, 16,4.5, 17.5,8, 18,11.5, 14,15.7, 8,15.8];

const contours_r6c1 = [
  [2.7,11.3, 4.3,15.4, 4.8,13.7, 6.6,14.1, 7.5,15.6, 8.4,13.7, 9.7,12.7, 11.7,12.2, 12.4,10.4, 14,10, 14.8,8.8, 15.9,7.3, 16.6,6.6, 15.9,4.8, 17,4.6, 14.6,2.9, 13.4,3.6, 11.5,4.6, 9.9,5.6, 8.4,6.2, 7.2,6.5, 6.8,7.7, 4.9,9.3],
  [3.9,11.5, 5.5,12.5, 7,13.1, 9,11.9, 11.1,10.9, 12,10, 14,9.6, 15.3,7.5, 15.9,5.4, 14.9,4.8, 12.8,5, 9.5,6.7, 7.4,7.3, 6.1,9.2],
  [5.9,11, 8.6,11.2, 9.9,11.9, 9.9,10.4, 11.5,10.6, 11.1,10, 12,7.3, 13.6,6.7, 13.6,5.2, 12,5.5, 9.9,6.6, 9.3,7.6, 7,8.6, 6.1,10.4],
  [2.3,13.7, 3.3,14, 3.3,13.5, 2.7,12.8], [4.2,14.3, 4.5,14.7, 4.8,13.5, 4.4,12.6], [12.9,9.7, 13.4,10.1, 13.8,9.7, 13.4,9.1], [10.5,10, 11,9, 10.5,6.8, 10.1,8.7], [11.3,8, 11.9,8.1, 12,6.5, 11.3,6.4], [9.5,9.3, 10,9.8, 10.5,9.1, 10,8.8]
];
const cells_r6c1 = ["", "", "", "", "..1 1", "..1 2 1 2 1", "...1 2 2 3 2 1", "....1 2 3 3 3 2 1", "....1 3 3 5 5 3 1", ".....2 3 5 4 3 2 1 1", "......2 5 5 5 3 3 2", ".......3 5 6 6 4 3 2", "........2 4 7 6 4 3 2", "........3 5 9 4 5 2", "..........2 4 3 6 3 2", "...........1 3 3 4 2", "............1 1 1 1", ".............1", "", ""];
const pts_r6c1 = [1.5,19, 2,18, 1,17, 3,17.5, 2.7,16, 1.5,15, 1,12, 2,9, 4,7, 6,5, 8,4, 10,3, 12,2.5, 15,1.5, 17,2, 18,5, 17,8, 15,11, 13,13, 10,15, 2,16.7, 1.4,16.4, 3.4,18, 4,16.6, 0.7,18, 16.4,3, 18,3.5, 13,1.5, 5.5,7, 3,9.4];

const contours_r6c2 = [
  [2.7,14.9, 3.4,16.1, 4.6,15.2, 7.3,15.3, 10,13.1, 11.2,10.8, 13.5,10, 12.3,7.5, 13.7,7.7, 13.1,6.1, 13.3,4.6, 12.7,3.3, 10.8,4.4, 9.6,3.8, 8.5,2.5, 7.7,4.4, 5.4,4.6, 2.9,10.4, 1.9,10.8, 2.1,12.4, 4.2,14.4],
  [5.2,13.7, 6.3,14.3, 7.3,14.3, 8.8,12, 10,10.8, 11,8.8, 12.3,6.5, 11.2,5.2, 8.5,4, 7.3,5.4, 6.3,6, 4.4,9, 3.2,9.6, 5,10.8, 5,12.9],
  [5.4,11, 6.7,12.2, 7.9,11.4, 9,10, 9.6,7.5, 10.8,5.4, 8.3,5.4, 6.7,7.9, 4.4,8.9, 5.9,9.6],
  [3.3,12.9, 3.5,13.5, 3.8,11.7, 3.5,10.4], [4.4,11.5, 4.6,12.1, 4.7,11.1, 4.5,11], [11.9,11.5, 12.4,12.2, 13,11.5, 12.5,11], [14.1,8.5, 14.6,8.9, 15,8.5, 14.6,8], [10.5,9.6, 10.8,9.9, 11,9.6, 10.7,9.1], [8,7.9, 8.6,8.2, 9.4,7.9, 8.6,7.6], [8,5.5, 8.3,5.8, 8.6,5.5, 8.3,5.2], [6.3,11.5, 6.6,11.7, 6.9,10.6, 6.6,10.2]
];
const cells_r6c2 = ["", "", "", "....1 1 1", "....2 2 3 2 1", "....1 2 4 3 2 1", "....1 2 3 4 2 2", ".....2 5 6 4 2 1", ".....2 3 6 6 3 1", ".....1 4 5 6 3 2", ".....3 6 8 6 4 2", ".....2 5 9 5 4 2", "......1 4 6 5 3 2", ".......3 6 4 6 2 1", ".......2 3 2 3 2 1", "........1 2 1 1", "", "", ""];
const pts_r6c2 = [1,11, 1.5,9, 0.7,13, 2,7, 3,5, 5,3, 7,2, 9,1.5, 11,2.5, 14,3, 15,5, 16,7, 15.5,10, 14,12, 12,14, 10,15, 8,16.5, 4,17, 3,17.5, 1.5,8, 2.5,6, 15,6, 17,4.5, 13,13, 6,16, 5.5,17.3, 1,14, 9,3.4];

const contours_r6c3 = [
  [2.7,13.5, 5.3,15.6, 6.9,14.9, 7.9,13.8, 9.4,12.3, 10.8,12.3, 13.4,8.6, 13.1,6.6, 13.7,4.5, 12.4,3.6, 9.4,3.5, 6.9,4.9, 5.6,6.9, 3.9,8.6, 4.4,10.3, 3.1,12],
  [4.8,12.3, 5.4,14.4, 6.9,14.6, 8.9,12.3, 10.3,10.1, 11.4,10.6, 12.1,7.6, 12.8,4.6, 10.3,4.6, 7.9,5.3, 6.6,6.9, 5.9,7.4, 5.1,7.9, 4.8,8.8],
  [6.1,10.3, 6.8,11.8, 8.4,12.3, 9.4,10.3, 10.1,7.3, 10.9,5.9, 10.3,5.3, 8.9,6.1, 6.9,8.3, 6.3,8.9],
  [3.1,15.4, 3.4,15.9, 3.7,15.4, 3.4,15], [8,14.5, 8.4,15.5, 8.8,14.2, 8.4,14], [3.2,13.5, 3.6,13.6, 4.1,12.4, 3.4,12.3], [3.1,10.7, 3.5,11, 4,10.5, 3.4,10.3], [13.9,5.5, 14.4,5.9, 14.9,5.5, 14.3,5.1], [10.2,2.6, 10.5,2.9, 10.8,2.6, 10.5,2.3], [6,12.5, 6.4,12.7, 6.8,12.5, 6.4,12.4], [10.3,8.6, 10.5,8.9, 10.8,8.6, 10.5,8.3]
];
const cells_r6c3 = ["", "", "", "", ".....1 1 1", ".....2 3 2 1", ".....2 2 3 1 1", ".....1 2 3 3 2 1", ".....2 3 9 5 3 1 1", ".....1 3 5 6 4 2 1", "......2 5 5 6 3 3 1", ".....2 5 9 9 6 3 2 1", ".......4 6 9 4 3 2", ".......2 5 6 6 4 3 2", ".......1 3 4 6 5 3 2", ".........2 3 5 3 2 2", "..........1 2 2 2 1", "............1 1", "", ""];
const pts_r6c3 = [2,11, 1,11.5, 3,12, 1.5,12.5, 2.5,9, 3,7, 4,5, 6,3, 8,2, 11,1.5, 12,2.5, 14,3, 15,7, 15,10, 15.5,9, 13,11, 10,14, 8,16, 5,17, 3.5,18.8, 1.3,10.6, 2.3,10, 3,14, 5,16.5, 6.5,15.7, 14.5,6.3, 15.7,6.7, 12,1, 9.5,1.7, 11.7,13];

const contours_r6c4 = [
  [5.9,7.6, 7.4,10.1, 9.4,9.6, 11.4,9.4, 10.4,8.6, 9.6,8.8, 8,9.8, 7.8,11.6, 9.6,11.9, 11.1,13.6, 12.4,15.1, 13.4,15.6, 14.3,15.9, 15.6,14.9, 17.4,15.9, 17.8,15.4, 17,13.3, 18,13.4, 19.3,15.9, 20.1,15.9, 20.1,4.5, 18.8,5.1, 17.6,4.6, 16.8,5.3, 15.4,3.9, 14.6,4.6, 12.4,4.1, 11.3,4.6, 9.4,5.1, 7.6,5.9],
  [8,8.8, 7.4,6.4, 9.4,5.4, 12.4,4.4, 14.3,4.9, 15.4,4.4, 17.4,6.1, 20.1,5.6, 20.1,15.6, 19.3,15.4, 18.1,12.9, 15.4,12.8, 13.1,14.4, 12,14.5, 10.9,13.4, 11.4,11.4, 11.4,9.4, 10.4,7.6, 9.6,8.8],
  [12.3,8.9, 13.1,10.6, 14.6,11.3, 15.4,12.8, 16.3,11.6, 17.6,11.3, 18.5,12.2, 20.1,12.4, 20.1,6.1, 19.3,6.6, 17.4,8.1, 15.4,8, 13.3,8.6],
  [2.1,6.5, 2.5,6.8, 2.8,6.5, 2.5,6.2], [4.9,4.4, 5.4,5.5, 5.8,4.4, 5.4,4.3], [12,14.4, 12.4,14.8, 12.9,14.3, 12.5,13.9], [12,11.4, 13,11.8, 13.9,11.6, 13,11.2], [14.2,9.6, 15.4,10.6, 16.8,9.4, 15.4,9.4, 15.4,8.1, 14.3,9.4], [17.2,10.6, 18.1,11.4, 18.5,10.3, 17.3,10.5], [14,6.6, 14.4,6.8, 15,6.5, 14.4,6.3], [10.4,5.6, 11.4,5.9, 11.6,5.4, 10.4,5.4], [12.1,5.5, 12.5,5.9, 12.9,5.4, 12.5,4.9], [14.1,5.6, 14.8,5.7, 15.4,5.5, 14.8,5.4], [19,9.6, 19.5,10.1, 20.1,10.1, 20.1,9.1, 19.6,9.1], [16.9,14.8, 17.4,15.9, 17.8,15.4, 17.4,14.9]
];
const cells_r6c4 = ["", "", "", "", "", "............11211 1233", "..........1123 1112334", "..........1242233 4445", ".........111345 3 56 65", "........1111564 66 57", ".......1111256467559", "......11113566656567", ".....1112233345656644", "......12333232333332", "........111212121111", "", "", "", "", ""];
const pts_r6c4 = [2,14, 4,12, 5,11, 3,10, 4,8, 3,5, 4,3, 6,4, 7,2.5, 9,3, 11,3, 13,2, 15,2.5, 17,3, 18,1.5, 15,17, 16,18, 17,17.5, 12,17, 3.5,7, 3,9, 2.4,10.4, 3.5,11.4, 5,9, 4.7,7, 2.7,4, 5.5,3.3, 8,4, 10,2, 12,3.5, 14,1.7, 16,3.5, 19,3, 19.4,17];

const contours_r6c5 = [
  [4.1,4.5, 4.7,5.7, 7.1,8.3, 12.2,13, 13.5,14.2, 14,13.7, 12.6,11.3, 10.5,9.1, 8.1,7.2, 6.2,5, 4.5,4.1],
  [5.1,5.7, 7.5,8.3, 11.5,12.1, 12.4,11.7, 10.3,9.3, 7.7,7, 5.8,5.2],
  [7.1,7.8, 8,8, 7.7,7.2],
  [14.1,14.4, 14.6,14.8, 15,14.4, 14.6,14], [12.1,13.4, 12.6,13.8, 12.9,13.4, 12.5,13], [10.3,10.9, 10.6,11.2, 10.7,10.8, 10.4,10.6]
];
const cells_r6c5 = ["", "", "", "", "", "", "............12", "...........32", "..........36", ".........52", "........46", ".......38", "......49", ".....63", "....36", "....2", "", "", "", ""];
const pts_r6c5 = [18.5,19.2, 19.5,19, 18,18, 17,17, 16.5,16.3, 16,15.7, 15.7,15, 16,16.5, 2.5,3.5, 1.8,2.5, 1.3,1.7, 3.5,4, 2.7,3, 0.7,0.8, 15,15.4, 15.4,15.8, 16.2,15.4, 15.2,14.7, 17.5,17.4, 3,3.2, 2,2.2, 1,1.4, 3.9,4.2, 2.2,3, 1.6,1.9];

const contours_r7c0 = [
  [3.9,7.6, 5.6,9, 5.4,11.5, 7.3,13.8, 9.1,13.9, 9.7,12.8, 11.6,12.8, 12,11.5, 14.3,11.1, 14.5,9.5, 16,10.1, 14.9,8.6, 16.6,5.5, 16.6,3.7, 17.1,1.6, 16.6,1.2, 15.1,1.2, 11,2.4, 8.1,3.7, 6.8,4.9, 4.8,7],
  [5.2,7.6, 6.2,9.9, 8.3,12.8, 10.9,10.3, 14.1,9.2, 15.6,6.1, 13.9,2.6, 11.8,3, 8.3,4, 6.6,6.1, 5.8,7],
  [8.6,9.5, 10,10.2, 11.6,8.4, 13.3,7.6, 13.1,5.7, 12.9,3.5, 10,4.3, 7.9,5.9, 8.1,7, 9.1,8.2],
  [5.8,7, 7,8.4, 7.9,9, 7.5,7.3, 6.8,6.6], [6.1,9.7, 6.6,9.8, 7.1,9.2, 6.6,9.2], [17,3.5, 17.5,3.9, 18,3.5, 17.5,3.1], [9.1,7.6, 9.5,8, 10,7.5, 9.5,7], [10,5.1, 10.4,6.1, 11,4.5, 10.2,4.1], [12.2,5.6, 12.5,5.9, 12.8,5.5, 12.5,5.2]
];
const cells_r7c0 = ["", "", "", "", "", "", "........1 1 1 1", ".......2 2 2 1 1", "......1 2 3 3 2 1", ".....2 3 2 4 4 3 2 1", ".....1 2 3 4 5 4 3 1 1", "......2 2 3 6 4 5 2 1 1", "......2 2 4 3 5 7 4 2 1", ".......2 3 4 3 5 6 3 2 1", ".......1 2 3 7 5 5 2 1 1", "........1 2 9 4 2 3 2 1", "..........1 1 2 2 2 1 1", "...........1 1 1 1 1", "", ""];
const pts_r7c0 = [4,17, 6,16.5, 8,17, 10,17.5, 12,16.5, 13,15, 5,14, 3,12, 4,10, 2,8, 3,6, 17,10, 18,8, 18,6, 19,3, 18.5,1, 13,1, 9,1.5, 3,4, 15,13, 5,17.3, 7,15.6, 9,16, 11,15.7, 6,15, 3.7,14, 2.3,10, 4.4,5, 17.5,5, 15,14.3];

const contours_r7c1 = [
  [3,1.6, 3.2,3.2, 2.2,4.9, 2,7, 4.5,7.8, 4.1,9.7, 6.1,9.9, 6.6,11.1, 8.2,11.5, 7.1,12.6, 8.4,12.6, 9.5,13.6, 11.1,13.6, 11.9,12.4, 13.6,12.6, 14.8,10.3, 15.8,11.1, 15.4,7.8, 17,5.5, 16.4,5.2, 14.9,4.3, 12.4,3.7, 10.5,2.6, 9.3,3.7, 7.6,1.6, 5.5,2.8],
  [3.4,5.5, 6.6,9.5, 6.6,10.8, 9.5,13.2, 11.3,12.2, 13.6,12.2, 14.6,9.9, 15,4.5, 12.4,3.9, 10.5,2.8, 9,3.9, 7.6,3.1, 4.9,3.7],
  [5.9,6.6, 9,9.5, 10.3,10.5, 12.4,10.9, 13.2,9.5, 14.6,9.5, 10.3,2.8, 8,3.3, 6.1,4.7, 8,5.5],
  [7,12.6, 7.8,12.8, 8.4,12.6, 7.7,12.3], [12.1,13.9, 12.6,14.3, 13.1,13.9, 12.6,13.4], [15.1,14.8, 15.5,15.2, 15.9,14.8, 15.5,14.5], [7,9.5, 7.6,10.1, 8.2,9.5, 7.6,9.1], [10,9.6, 10.5,10.1, 11,9.6, 10.5,9.1], [8,7.6, 8.6,8.1, 9.7,7.6, 8.6,7], [10.1,5.7, 10.5,6.1, 10.9,5.7, 10.5,5.3], [14.9,6.6, 15.5,7.1, 15.8,6.6, 15.3,6.3]
];
const cells_r7c1 = ["", "", "", "", "", "", ".........1 1 1", "........1 1 2 1 1", ".......2 2 4 2 3 2", ".....1 3 5 4 6 3 4 2", "....1 1 2 3 5 5 4 4 3 1", "...1 2 3 5 6 5 5 6 3 1", "...1 2 1 3 7 9 6 3 3 2 1", "...2 3 2 4 6 4 5 7 3 2", "....2 2 3 5 3 6 4 2 1", "....2 2 2 2 3 6 4 2", ".....1 1 1 1 2 3 2", ".....", "", ""];
const pts_r7c1 = [7,15, 9,16, 11,17, 13,17, 14,15, 16,14, 17,12, 18,9, 18,6, 17,3, 14,2, 12,1, 8,1, 5,1.3, 2,2, 1,5, 1,9, 3,11, 5,13, 9,18, 10,15, 12,15.5, 13.7,16, 11,18, 15,16.5, 16.5,9, 1.7,7.6, 5,11, 13,2.5, 16,2];

const contours_r7c2 = [
  [2.5,1.4, 2.7,5.5, 4.6,8.6, 4,10.1, 6.3,11.1, 8.8,12.2, 9.6,13.6, 10.5,12.4, 12.5,12.8, 12.6,9.9, 13.2,7.6, 10,4.3, 7.5,3.2, 5.6,2.6, 3.3,1.2],
  [3.8,2.6, 4.6,5.3, 6.1,7.4, 6.1,10.3, 10.8,10.5, 12.7,9, 12.7,7.6, 9.6,4.5, 6.3,3, 4.5,2.6, 3.8,3.7],
  [4.4,4.9, 6.7,7.8, 7.7,7.8, 8.5,9.9, 10.2,9.9, 10.8,7.8, 9,4.5, 6.3,3.3, 5,4],
  [7.2,14.5, 7.5,15.4, 8.5,14.5, 7.4,14.4], [10,15.6, 10.4,16, 10.8,15.6, 10.4,15.2], [9.4,8.6, 9.6,9, 9.9,8.4, 9.5,8.3], [10.2,8.6, 10.6,9.9, 10.8,8.6, 10.4,8], [7.9,7.5, 8.5,8, 9.2,7.5, 8.5,7], [5.9,4.6, 6.3,4.9, 6.7,4.6, 6.3,4.3], [7.2,4.8, 8.7,5.1, 9,4.4, 7.2,4.3], [6.1,3.5, 6.4,3.8, 6.7,3.5, 6.4,3.2], [3.2,2.3, 3.6,3.5, 4.4,2.4]
];
const cells_r7c2 = ["", "", "", "", "", "", "", "", "..........1 1 1 1", ".........1 1 1 1 1", "......1 1 3 2 3 2 1", ".....1 2 3 3 5 4 2", ".....1 3 5 6 6 3 2", "....2 2 3 5 5 5 2", "....1 2 3 6 4 1", "....2 3 5 9 9 2", "....1 3 7 4 2", "...1 2 2 1 1", "...1 1", "", ""];
const pts_r7c2 = [8,15, 6,14, 7,12, 11,15, 13,14, 15,13, 14.5,11, 15,8, 14,6, 12,4, 10,2.5, 7,1.5, 4,0.8, 1,3, 1.5,2, 2,6, 2,9, 3,10.5, 5,12, 9,14, 10,14.5, 12,13.7, 14,12, 8.5,16, 11,17, 13.5,8, 1,1, 0.7,4];

const contours_r7c3 = [
  [1.8,3.6, 2.8,5.8, 4.6,7.4, 5.4,7.4, 4.4,9.6, 4.8,10.8, 6.4,11.4, 8.4,11.6, 8.4,12.6, 9.6,13.5, 10.6,13.5, 11.8,13, 12.6,13, 13.4,11.6, 13.3,7.6, 11.4,5.3, 9.6,3.3, 6.9,2.3, 4.8,1.7, 3.4,1, 2.4,1.6, 2.4,2.4],
  [5.1,6.4, 6.9,7.4, 6.3,9.8, 7.3,10.8, 8.4,10.4, 9.4,10.9, 10.4,10.3, 11.1,11.9, 11.9,11.8, 12.8,7.6, 11.4,5.3, 8.1,2.9, 5.4,3.4, 5.6,4.8],
  [5.9,4.9, 6.9,6.3, 6.6,7.6, 8.4,8.6, 10.1,7.3, 9.6,4.9, 7.3,3.6],
  [7.9,14.5, 8.6,15, 9.4,14.5, 8.8,14.1], [11,15.4, 11.4,15.8, 11.7,15.4, 11.4,15], [13.1,14.5, 13.4,14.8, 13.8,14.4, 13.4,14.1], [4.1,4.5, 4.4,5.6, 4.6,4.4], [3.8,3.4, 5.3,3.8, 4.4,2.7], [5,6.5, 5.4,6.8, 5.9,6.5, 5.4,6.2], [7.5,9.4, 7.7,9.8, 7.8,9.3, 7.5,8.9], [8.9,9.5, 9.8,9.9, 10.4,9.6, 9.6,9.2], [7.5,7.6, 8.4,8, 9.6,6.6, 9,7.3]
];
const cells_r7c3 = ["", "", "", "", "", "", ".........1 1 1", "........1 1 2 1 1", ".......1 2 2 1 2 1", "......1 2 3 2 2 2 1", ".....1 3 2 3 3 2 1", "......2 2 4 6 5 3 2", ".....2 3 5 9 6 5 2 1", "...1 1 3 4 5 6 5 2", "...1 2 2 5 6 6 4 1", "...1 2 2 3 3 1", "...1 1 1 1", "...1", "", ""];
const pts_r7c3 = [1,2, 2,1, 1.5,5, 2,8, 4,12, 6,13, 8,14, 9,16, 10.5,17, 12,16.7, 14,17.5, 15,15, 15.5,13, 14,12, 15,9, 14.5,7, 12,4, 7,1.3, 3,0.4, 16,11, 7,15.5, 9.7,14.4, 12.5,15, 13,17, 10,15.4, 5,13.7, 3,8, 14.3,10];

const contours_r7c4 = [
  [6.4,12.6, 7.4,13.5, 11.4,11.9, 13.3,10.4, 14.8,10.4, 17.6,8.3, 18.4,8.1, 20.1,6.9, 20.1,0.8, 18,2.3, 15.8,3.3, 14.3,4.6, 13.1,5.3, 11.1,6.4, 11.4,7.1, 9.3,8.9, 8.4,8.9, 7.4,10.4, 6.4,10.5, 7.6,11.4],
  [10.4,11.5, 9.9,10.6, 11.9,7.6, 11.6,6.6, 14.2,5.4, 17.8,3.1, 20.1,1.4, 20.1,6.4, 18.4,7.6, 16.1,8.3, 14.1,9.9, 12.6,10.4],
  [10.9,9.8, 13.1,9.7, 16.1,7.6, 17.8,6.9, 20.1,5.9, 20.1,2.6, 18,3.9, 15.4,6.3, 13.1,6.9, 12.3,7.9, 12.8,8.9]
];
const cells_r7c4 = ["", "", "", "", "", "", "", "..........1 1 1", "..........1 2 1 1", "...........2 3 2 1 1", "...........3 4 3 2 1 1", "............5 5 4 6 3 2 1", ".............2 5 6 5 6 4 3 1", "..............2 3 5 4 6 5 4 3", "................1 3 4 5 6 5", ".................6 9 9", "...................4 6", "...................3", "", ""];
const pts_r7c4 = [2,18, 3,18.5, 1.5,17, 2.5,17, 3,15, 2.7,14.3, 4,15.5, 5,14, 4,13, 6,14.7, 3,16, 5.5,15, 7,14, 9,13.5, 10,12.8, 12,12, 14,11, 19,11, 18,9, 14,3, 3,17.3, 2,16.5, 3.6,16.3, 4.4,14.3, 3.5,14, 1,18.3, 5,16, 6,13.7, 8,14.4, 19,9, 16,9.3, 13,3.5];

const contours_r7c5 = [
  [3.9,7.5, 4.5,8.8, 4,9.6, 5.6,12.8, 5.6,14.3, 6.6,15, 8,13.5, 11.8,11.1, 14.1,9.8, 13.7,8.6, 16.1,7.5, 15.4,5.6, 15.7,4.1, 15,3.2, 13.3,2.4, 11.3,2.8, 9.5,1.6, 7.7,2.8, 6.2,3.4, 4.3,4.3, 4.7,5.6],
  [4.3,9.6, 5.2,12.4, 6.6,12.8, 8.1,10.9, 13.9,9.8, 13,7.9, 13.7,5.3, 13.5,3.4, 10.5,3, 7.5,3.6, 5.4,4.9, 4.9,7.4],
  [5.6,9.8, 6.6,11.1, 7.7,10.5, 7.9,8.3, 10.1,7.9, 11.8,8.3, 12,6, 12.4,3.6, 9.6,4, 6.2,5.6, 7.1,7.3],
  [4.2,14.3, 4.5,14.6, 4.9,14.3, 4.5,14], [5.2,15.2, 5.5,15.5, 5.7,15.1, 5.5,14.7], [5.4,7.4, 6.2,8.7, 6.7,7.4, 6,6.8], [9.4,6.2, 9.6,7.5, 10.7,7.5, 10.9,5.8, 10.1,6], [8.2,5, 9.2,5.3, 9.9,5.1, 9,4.7], [11.1,5.1, 11.4,5.4, 11.7,5.1, 11.4,4.8]
];
const cells_r7c5 = ["", "", "", "", "", "", ".....1 1", "......1 2 1 1", ".....1 2 3 1 1 1", ".....2 4 3 2 2 2 1", ".....2 3 4 2 3 2 2", ".....1 2 2 2 3 2 2 1", ".....2 3 6 6 5 8 3 2 1", ".....2 3 5 6 5 9 4 2 1", "......2 4 5 4 5 6 3 2", "......1 3 4 5 5 3 3 1", ".......1 2 3 3 2 2 1", ".........1 1 1 1 1", "", ""];
const pts_r7c5 = [1.5,18.5, 3,18.5, 4,18, 2,16, 1,14, 1,10, 2,7, 2,5, 2.5,3, 4,2.5, 7,1, 10,0.7, 13,1, 15,1.5, 16,1.5, 17,3, 18,5, 17,8, 15,11, 11,13, 8.7,15.7, 9,14.4, 10,13, 3,11, 2.6,8.5, 1.5,12, 5,1.5, 12,1.7, 16.5,5.7, 17.5,7];

const contours_r7c6 = [
  [3.4,7.6, 4.4,9, 3.8,9.8, 5,12.6, 4.2,14.3, 4.4,15.8, 5.7,14.7, 8.5,14.7, 7.6,13.5, 10.4,12.2, 14.4,9.6, 14,8.3, 15.5,7.4, 15,5.6, 15.7,4.9, 15.7,2.4, 14.4,2.8, 11.4,2, 10.4,2.6, 9.3,1.5, 7.6,2.4, 5.2,4.3, 4.4,6.6],
  [3.9,9.6, 5.2,12.2, 6.5,12.2, 13.6,9.6, 13.6,7, 15,3.5, 11.2,3, 7.4,3.9, 4.8,6, 4.4,7.4],
  [5.5,6.6, 7,9, 11.6,9, 11.4,8, 12.1,4.9, 11.6,3.8, 8.9,4.9, 7.8,3.8, 7,5.3, 5.5,6.2],
  [5.2,11.9, 6.4,10.8, 7.4,10.5, 6.5,9.5, 5.2,9.7], [3.1,17.5, 3.4,17.9, 3.8,17.5, 3.4,17.2], [7.9,9.6, 8.4,10, 9,9.6, 8.4,9.2], [13.6,6.3, 14.4,7.1, 14.9,6.2, 14.2,5.2], [14.2,4.5, 14.9,4.8, 15,4.4, 14.5,4.2], [12.3,4.7, 12.5,5, 12.7,4.4, 12.4,4.3], [8.4,5.6, 10.6,5.8, 8.9,4.7], [8.2,6.7, 10.9,7.1, 9.2,6.5]
];
const cells_r7c6 = ["", "", "", "", "", "", ".....2 2 1 1", ".....3 4 2 2 1", ".....3 4 3 3 2 2 1", ".....1 3 3 3 4 4 3 2 1", "....1 2 3 4 4 4 4 3 2 1", "....1 2 4 5 5 4 4 4 2 2 1", "....1 2 4 5 9 9 9 4 2 2 1", "....1 4 3 6 9 7 5 3 3 2 1", ".....2 4 7 6 5 2 6 3 2", ".......2 9 3 4 5 4 3", "........1 2 2 2 2 1", "", "", ""];
const pts_r7c6 = [2,18, 4,17, 3,16, 1.5,15, 1,13, 0.7,9, 1.5,6, 3,4, 5,2, 7,1, 10,1, 12,1, 14,1.3, 16,4, 17,6, 18,7.5, 16,10, 13,11, 9,13, 6,16, 2.5,8, 2.3,10, 3,12, 5,16.5, 7,15.5, 11,12.5, 17,9, 13,1.5, 17.3,3, 16.5,7];

// lookup of the panels above
const contourSets = { r1c0: contours_r1c0, r2c0: contours_r2c0, r2c1: contours_r2c1, r3c0: contours_r3c0, r3c1: contours_r3c1, r3c2: contours_r3c2, r4c0: contours_r4c0, r4c1: contours_r4c1, r4c2: contours_r4c2, r4c3: contours_r4c3, r5c0: contours_r5c0, r5c1: contours_r5c1, r5c2: contours_r5c2, r5c3: contours_r5c3, r5c4: contours_r5c4, r6c0: contours_r6c0, r6c1: contours_r6c1, r6c2: contours_r6c2, r6c3: contours_r6c3, r6c4: contours_r6c4, r6c5: contours_r6c5, r7c0: contours_r7c0, r7c1: contours_r7c1, r7c2: contours_r7c2, r7c3: contours_r7c3, r7c4: contours_r7c4, r7c5: contours_r7c5, r7c6: contours_r7c6 };
const cellSets = { r1c0: cells_r1c0, r2c0: cells_r2c0, r2c1: cells_r2c1, r3c0: cells_r3c0, r3c1: cells_r3c1, r3c2: cells_r3c2, r4c0: cells_r4c0, r4c1: cells_r4c1, r4c2: cells_r4c2, r4c3: cells_r4c3, r5c0: cells_r5c0, r5c1: cells_r5c1, r5c2: cells_r5c2, r5c3: cells_r5c3, r5c4: cells_r5c4, r6c0: cells_r6c0, r6c1: cells_r6c1, r6c2: cells_r6c2, r6c3: cells_r6c3, r6c4: cells_r6c4, r6c5: cells_r6c5, r7c0: cells_r7c0, r7c1: cells_r7c1, r7c2: cells_r7c2, r7c3: cells_r7c3, r7c4: cells_r7c4, r7c5: cells_r7c5, r7c6: cells_r7c6 };
const ptSets = { r1c0: pts_r1c0, r2c0: pts_r2c0, r2c1: pts_r2c1, r3c0: pts_r3c0, r3c1: pts_r3c1, r3c2: pts_r3c2, r4c0: pts_r4c0, r4c1: pts_r4c1, r4c2: pts_r4c2, r4c3: pts_r4c3, r5c0: pts_r5c0, r5c1: pts_r5c1, r5c2: pts_r5c2, r5c3: pts_r5c3, r5c4: pts_r5c4, r6c0: pts_r6c0, r6c1: pts_r6c1, r6c2: pts_r6c2, r6c3: pts_r6c3, r6c4: pts_r6c4, r6c5: pts_r6c5, r7c0: pts_r7c0, r7c1: pts_r7c1, r7c2: pts_r7c2, r7c3: pts_r7c3, r7c4: pts_r7c4, r7c5: pts_r7c5, r7c6: pts_r7c6 };

// ----------------------------------------------------------------

const FONT = 'DejaVu Sans';
const STEP = 210, PLOT = 199.5, LEFT = 100.5, TOP = 39.5, CANVAS_W = 345, CANVAS_H = 339;
const grayLevels = [255, 241, 224, 203, 178, 152, 122, 92, 55, 0];

Chart.defaults.font.family = FONT;
Chart.defaults.color = '#000';

const binValue = (v, b) => axisMin[v] + b * (axisMax[v] - axisMin[v]) / 20;

const measure = document.createElement('canvas').getContext('2d');
const xLabelShift = v => {
  measure.font = '13.89px "' + FONT + '"';
  const w = Math.max(...tickLabels[v].map(t => measure.measureText(t).width));
  return w / 2 * Math.SQRT1_2 - 2;
};

// the bins of a 2d histogram, placed with the chart's own scales
// a space in a row only separates the digits, a dot is an empty bin
function cellsPlugin(rows, xv, yv) {
  return {
    id: 'binCells',
    beforeDatasetsDraw(chart) {
      const { ctx, scales: { x, y } } = chart;
      rows.forEach((row, r) => {
        const vals = row.replace(/ /g, '');
        for (let c = 0; c < vals.length && c < 20; c++) {
          const d = vals.charCodeAt(c) - 48;
          if (!(d > 0)) continue;
          const g = grayLevels[d];
          const x0 = x.getPixelForValue(binValue(xv, c));
          const x1 = x.getPixelForValue(binValue(xv, c + 1));
          const y0 = y.getPixelForValue(binValue(yv, 20 - r));
          const y1 = y.getPixelForValue(binValue(yv, 19 - r));
          ctx.fillStyle = 'rgb(' + g + ',' + g + ',' + g + ')';
          ctx.fillRect(x0, y0, x1 - x0, y1 - y0);
        }
      });
    }
  };
}

// box round the plot area
const framePlugin = {
  id: 'frame',
  afterDraw(chart) {
    const { ctx, chartArea: a } = chart;
    ctx.save();
    ctx.strokeStyle = '#000';
    ctx.lineWidth = 1.2;
    ctx.strokeRect(a.left, a.top, a.right - a.left, a.bottom - a.top);
    ctx.restore();
  }
};

// histogram title with the stacked up/down errors
function titlePlugin(i) {
  return {
    id: 'histTitle',
    afterDraw(chart) {
      const { ctx, chartArea: a } = chart;
      ctx.save();
      ctx.fillStyle = '#000';
      ctx.textBaseline = 'alphabetic';
      ctx.textAlign = 'left';
      ctx.font = '16.67px "' + FONT + '"';
      const mainW = ctx.measureText(titleMain[i]).width;
      ctx.font = '11.67px "' + FONT + '"';
      const smallW = Math.max(ctx.measureText(titleUp[i]).width, ctx.measureText(titleDown[i]).width);
      const x0 = (a.left + a.right) / 2 - (mainW + smallW) / 2;
      ctx.font = '16.67px "' + FONT + '"';
      ctx.fillText(titleMain[i], x0, a.top - 8.5);
      ctx.font = '11.67px "' + FONT + '"';
      ctx.fillText(titleUp[i], x0 + mainW, a.top - 14.5);
      ctx.fillText(titleDown[i], x0 + mainW, a.top - 4.5);
      ctx.restore();
    }
  };
}

// the 1e-5 offset text next to the ldisk_1pc axes
function offsetPlugin(side) {
  return {
    id: 'offsetText',
    afterDraw(chart) {
      const { ctx, chartArea: a } = chart;
      ctx.save();
      ctx.fillStyle = '#000';
      ctx.font = '13.89px "' + FONT + '"';
      if (side === 'y') {
        ctx.textAlign = 'left';
        ctx.textBaseline = 'alphabetic';
        ctx.fillText('1e−5', a.left, a.top - 2.5);
      } else {
        ctx.textAlign = 'right';
        ctx.textBaseline = 'middle';
        ctx.fillText('1e−5', a.right, a.bottom + 53);
      }
      ctx.restore();
    }
  };
}

function fixedAxisSize(prop, size) {
  return scale => {
    scale[prop] = size;
    scale.paddingLeft = scale.paddingRight = scale.paddingTop = scale.paddingBottom = 0;
  };
}

function xAxis(v, row) {
  const bottomRow = row === 7;
  return {
    type: 'linear',
    position: 'bottom',
    min: axisMin[v],
    max: axisMax[v],
    afterBuildTicks(scale) { scale.ticks = tickValues[v].map(value => ({ value })); },
    afterFit: fixedAxisSize('height', CANVAS_H - TOP - PLOT),
    border: { display: false },
    grid: { drawOnChartArea: false, tickLength: 5, tickWidth: 1.1, tickColor: '#000' },
    ticks: {
      display: bottomRow,
      autoSkip: false,
      minRotation: 45,
      maxRotation: 45,
      padding: 6,
      labelOffset: bottomRow ? xLabelShift(v) : 0,
      color: '#000',
      font: { size: 13.89 },
      callback: (value, index) => tickLabels[v][index]
    },
    title: { display: bottomRow, text: names[v], color: '#000', font: { size: 13.89 }, padding: { top: 0, bottom: 24 } }
  };
}

function yAxis(v, col) {
  const firstCol = col === 0;
  return {
    type: 'linear',
    position: 'left',
    min: axisMin[v],
    max: axisMax[v],
    afterBuildTicks(scale) { scale.ticks = tickValues[v].map(value => ({ value })); },
    afterFit: fixedAxisSize('width', LEFT),
    border: { display: false },
    grid: { drawOnChartArea: false, tickLength: 5, tickWidth: 1.1, tickColor: '#000' },
    ticks: {
      display: firstCol,
      autoSkip: false,
      minRotation: 45,
      maxRotation: 45,
      padding: 8,
      labelOffset: -1,
      color: '#000',
      font: { size: 13.89 },
      callback: (value, index) => tickLabels[v][index]
    },
    title: { display: firstCol, text: names[v], color: '#000', font: { size: 13.89 }, padding: { top: 24, bottom: 0 } }
  };
}

function addCanvas(row, col) {
  const canvas = document.createElement('canvas');
  canvas.width = CANVAS_W;
  canvas.height = CANVAS_H;
  canvas.style.left = (col * STEP) + 'px';
  canvas.style.top = (row * STEP) + 'px';
  canvas.style.width = CANVAS_W + 'px';
  canvas.style.height = CANVAS_H + 'px';
  document.getElementById('corner').appendChild(canvas);
  return canvas;
}

const baseOptions = {
  responsive: false,
  animation: false,
  devicePixelRatio: 1,
  layout: { padding: { top: TOP, right: CANVAS_W - LEFT - PLOT, left: 0, bottom: 0 } },
  plugins: { legend: { display: false }, tooltip: { enabled: false } },
  events: []
};

// diagonal panels, each point is the left edge of its bin
function drawHist(i) {
  const data = hists[i].map((h, b) => ({ x: binValue(i, b), y: h }));
  data.push({ x: binValue(i, 20), y: hists[i][19] });
  const plugins = [framePlugin, titlePlugin(i)];
  new Chart(addCanvas(i, i), {
    type: 'scatter',
    data: { datasets: [{ data, showLine: true, stepped: 'before', borderColor: '#000', borderWidth: 2, pointRadius: 0 }] },
    options: {
      ...baseOptions,
      scales: {
        x: xAxis(i, i),
        y: {
          type: 'linear', min: 0, max: 100, position: 'left',
          afterFit: fixedAxisSize('width', LEFT),
          border: { display: false },
          grid: { display: false },
          ticks: { display: false }
        }
      }
    },
    plugins
  });
}

// off-diagonal panels
function drawPanel(row, col) {
  const key = 'r' + row + 'c' + col;
  const datasets = contourSets[key].map(flat => {
    const data = [];
    for (let k = 0; k < flat.length; k += 2) {
      data.push({ x: binValue(col, flat[k]), y: binValue(row, flat[k + 1]) });
    }
    data.push(data[0]);
    return { data, showLine: true, borderColor: '#000', borderWidth: 2, pointRadius: 0, borderJoinStyle: 'miter', tension: 0 };
  });
  const flatPts = ptSets[key];
  const ptData = [];
  for (let k = 0; k < flatPts.length; k += 2) {
    ptData.push({ x: binValue(col, flatPts[k]), y: binValue(row, flatPts[k + 1]) });
  }
  datasets.push({ data: ptData, showLine: false, pointRadius: 1.3, pointBorderWidth: 0, pointBackgroundColor: 'rgba(0,0,0,0.16)' });

  const plugins = [cellsPlugin(cellSets[key], col, row), framePlugin];
  if (row === 5 && col === 0) plugins.push(offsetPlugin('y'));
  if (row === 7 && col === 5) plugins.push(offsetPlugin('x'));

  new Chart(addCanvas(row, col), {
    type: 'scatter',
    data: { datasets },
    options: { ...baseOptions, scales: { x: xAxis(col, row), y: yAxis(row, col) } },
    plugins
  });
}

for (let row = 0; row < 8; row++) {
  for (let col = 0; col < row; col++) drawPanel(row, col);
  drawHist(row);
}
</script>
</body>
</html>
